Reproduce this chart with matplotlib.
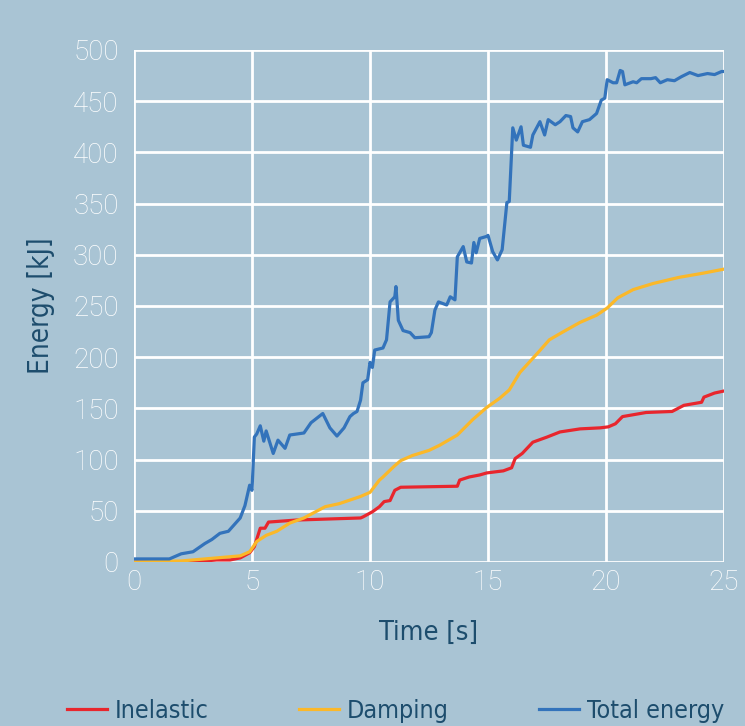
import matplotlib
matplotlib.use("Agg")
import matplotlib.pyplot as plt

# energy histories [s, kJ]
t_total = [0, 1.5, 2.0, 2.5, 3.0, 3.3, 3.64, 4.0, 4.5, 4.7, 4.9, 5.0, 5.1, 5.2, 5.35, 5.5, 5.6, 5.9, 6.1, 6.4, 6.6,
           7.2, 7.5, 8.0, 8.3, 8.6, 8.9, 9.15, 9.3, 9.45, 9.6, 9.7, 9.9, 10.0, 10.1, 10.2, 10.55, 10.7, 10.85,
           11.05, 11.1, 11.2, 11.4, 11.7, 11.9, 12.5, 12.6, 12.75, 12.9, 13.25, 13.4, 13.6, 13.7, 13.95, 14.1,
           14.3, 14.4, 14.5, 14.65, 14.95, 15.0, 15.2, 15.4, 15.6, 15.8, 15.9, 16.05, 16.2, 16.4, 16.5, 16.8,
           16.9, 17.2, 17.4, 17.55, 17.85, 18.05, 18.3, 18.5, 18.6, 18.8, 19.0, 19.3, 19.6, 19.8, 19.95, 20.05,
           20.3, 20.45, 20.6, 20.7, 20.8, 21.15, 21.3, 21.5, 21.9, 22.1, 22.3, 22.6, 22.9, 23.2, 23.55, 23.9,
           24.3, 24.6, 24.9, 25.0]
e_total = [3, 3, 8, 10, 18, 22, 28, 30, 43, 55, 75, 70, 122, 125, 133, 118, 128, 106, 119, 111, 124,
           126, 136, 145, 131, 123, 131, 142, 145, 147, 158, 175, 178, 195, 190, 207, 209, 217, 254,
           259, 269, 236, 226, 224, 219, 220, 224, 246, 254, 251, 259, 256, 298, 308, 293,
           292, 312, 302, 316, 318, 319, 303, 295, 305, 351, 352, 424, 412, 425, 407, 405,
           417, 430, 417, 432, 427, 430, 436, 435, 424, 420, 430, 432, 438, 451, 453, 471,
           468, 468, 480, 479, 466, 469, 468, 472, 472, 473, 468, 471, 470, 474, 478, 475,
           477, 476, 479, 479]

t_inelastic = [0, 2.5, 3.0, 3.5, 4.07, 4.5, 4.9, 5.1, 5.35, 5.55, 5.7, 6.9, 9.6, 9.7, 10.1, 10.4, 10.6, 10.85,
               11.05, 11.3, 13.7, 13.8, 14.2, 14.65, 14.95, 15.65, 16.0, 16.15, 16.45, 16.9, 17.5, 18.05,
               18.9, 19.75, 20.1, 20.4, 20.7, 21.7, 22.8, 23.3, 24.05, 24.15, 24.6, 25.0]
e_inelastic = [0, 0, 1, 2, 2, 4, 9, 15, 33, 33, 39, 41, 43, 44, 49, 54, 59, 60,
               70, 73, 74, 80, 83, 85, 87, 89, 92, 101, 106, 117, 122, 127,
               130, 131, 132, 135, 142, 146, 147, 153, 156, 161, 165, 167]

t_damping = [0, 2.0, 3.0, 4.0, 4.5, 4.9, 5.2, 5.6, 6.05, 6.6, 7.2, 8.1, 8.7, 9.6, 10.0, 10.4, 10.55, 11.0,
             11.3, 11.8, 12.5, 12.95, 13.7, 14.35, 14.95, 15.5, 15.9, 16.35, 17.1, 17.6, 18.2, 18.9, 19.6,
             20.05, 20.5, 21.15, 22.0, 23.1, 24.1, 25.0]
e_damping = [0, 1, 3, 5, 6, 10, 20, 26, 30, 38, 43, 54, 57, 64, 68, 80, 83, 93,
             99, 104, 109, 114, 124, 139, 151, 160, 168, 185, 204, 217, 225, 234, 241,
             248, 258, 266, 272, 278, 282, 286]

x_ticks = [0, 5, 10, 15, 20, 25]
y_ticks = [0, 50, 100, 150, 200, 250, 300, 350, 400, 450, 500]

bg = "#a9c4d4"
dark = "#1d4d6d"
tick_font = {"family": ["Roboto", "DejaVu Sans"], "weight": "light", "size": 20}
label_font = {"family": "DejaVu Sans", "stretch": "condensed"}

fig = plt.figure(figsize=(7.45, 7.26), dpi=100, facecolor=bg)
ax = fig.add_axes([134 / 745, 164 / 726, 590 / 745, 512 / 726], facecolor=bg)

ax.plot(t_inelastic, e_inelastic, color="#e8262d", lw=2.3, label="Inelastic", zorder=3)
ax.plot(t_damping, e_damping, color="#fbb829", lw=2.3, label="Damping", zorder=3)
ax.plot(t_total, e_total, color="#3373bb", lw=2.3, label="Total energy", zorder=4)

ax.set_xlim(0, 25)
ax.set_ylim(0, 500)
ax.set_xticks(x_ticks)
ax.set_yticks(y_ticks)
ax.set_xticklabels([str(v) for v in x_ticks], fontdict=tick_font, color="white")
ax.set_yticklabels([str(v) for v in y_ticks], fontdict=tick_font, color="white")
ax.tick_params(length=0)
ax.tick_params(axis="y", pad=11)
ax.tick_params(axis="x", pad=5)
ax.grid(True, color="white", lw=2)
ax.set_axisbelow(True)
for s in ax.spines.values():
    s.set_visible(False)

ax.set_xlabel("Time [s]", fontsize=19.5, color=dark, labelpad=17, **label_font)
ax.set_ylabel("Energy [kJ]", fontsize=20, color=dark, labelpad=13, **label_font)

leg = fig.legend(loc="lower left", ncol=3, mode="expand", bbox_to_anchor=(0.09, 0.004, 0.882, 0.03),
                 frameon=False, borderpad=0, borderaxespad=0, handlelength=1.6, handletextpad=0.3,
                 prop={"family": "DejaVu Sans", "stretch": "condensed", "size": 18})
for txt in leg.get_texts():
    txt.set_color(dark)

fig.savefig("out.png", dpi=100, facecolor=bg)
